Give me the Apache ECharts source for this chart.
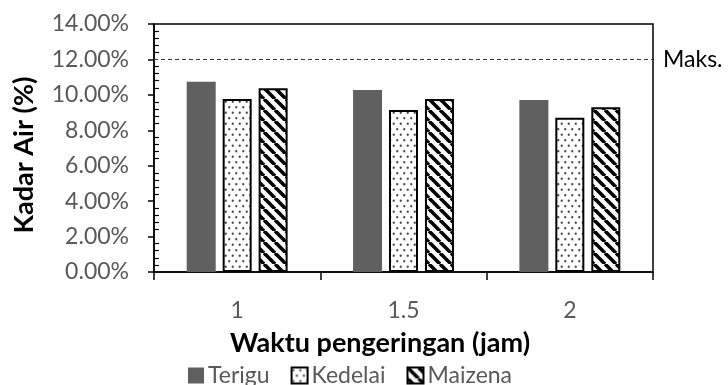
<!DOCTYPE html>
<html>
<head>
<meta charset="utf-8">
<script src="https://cdn.jsdelivr.net/npm/echarts@6/dist/echarts.min.js"></script>
<style>
  html, body { margin: 0; padding: 0; background: #fff; }
  #chart { width: 728px; height: 385px; }
</style>
</head>
<body>
<div id="chart"></div>
<script>
// Drying time categories (hours) and moisture content (%) per flour type
const categories = ['1', '1.5', '2'];
const terigu  = [10.74, 10.28, 9.71];
const kedelai = [9.77, 9.15, 8.71];
const maizena = [10.37, 9.77, 9.30];
const maxLimit = 12;            // upper limit line "Maks."
const yTicks = [0, 14, 2];      // min, max, interval

// Fill patterns: dotted tile for Kedelai, diagonal stripes for Maizena
function dotPattern() {
  const c = document.createElement('canvas');
  c.width = 7; c.height = 11;
  const g = c.getContext('2d');
  g.fillStyle = '#fff'; g.fillRect(0, 0, 7, 11);
  g.fillStyle = '#4a4a4a';
  [[1.75, 2.75], [5.25, 8.25]].forEach(function (p) {
    g.beginPath(); g.arc(p[0], p[1], 1.15, 0, Math.PI * 2); g.fill();
  });
  return c;
}
function stripePattern() {
  const s = 11;
  const c = document.createElement('canvas');
  c.width = s; c.height = s;
  const g = c.getContext('2d');
  g.fillStyle = '#fff'; g.fillRect(0, 0, s, s);
  g.strokeStyle = '#000'; g.lineWidth = 3.6;
  for (let k = -1; k <= 1; k++) {
    g.beginPath(); g.moveTo(k * s, 0); g.lineTo(k * s + s, s); g.stroke();
  }
  return c;
}

const font = 'Lato';
const grey = '#595959';
const chart = echarts.init(document.getElementById('chart'));

chart.setOption({
  animation: false,
  backgroundColor: '#fff',
  textStyle: { fontFamily: font },
  grid: {
    left: 154, top: 24, width: 499, height: 248,
    show: true, borderColor: '#000', borderWidth: 1.5, backgroundColor: 'transparent'
  },
  legend: {
    left: 183, top: 359,
    itemWidth: 16, itemHeight: 16, itemGap: 21,
    icon: 'rect',
    textStyle: { fontFamily: font, fontSize: 23, color: grey, padding: [0, 0, 0, -1] },
    data: ['Terigu', 'Kedelai', 'Maizena']
  },
  xAxis: {
    type: 'category',
    data: categories,
    axisLine: { lineStyle: { color: '#000', width: 1.5 } },
    axisTick: { show: true, length: 8, lineStyle: { color: '#000', width: 1.5 } },
    axisLabel: { fontFamily: font, fontSize: 23, color: grey, margin: 27 }
  },
  yAxis: [{
    type: 'value',
    min: yTicks[0], max: yTicks[1], interval: yTicks[2],
    splitLine: { show: false },
    axisLine: { show: true, lineStyle: { color: '#000', width: 1.5 } },
    axisTick: { show: true, length: 6, lineStyle: { color: '#000', width: 1.5 } },
    axisLabel: {
      fontFamily: font, fontSize: 23, color: grey, margin: 25,
      formatter: function (v) { return v.toFixed(2) + '%'; }
    }
  }, {
    // inner minor ticks sharing the same scale
    type: 'value', position: 'left',
    min: yTicks[0], max: yTicks[1], interval: yTicks[2],
    splitLine: { show: false },
    axisLine: { show: false },
    axisLabel: { show: false },
    axisTick: { show: false, inside: true },
    minorTick: { show: true, splitNumber: 5, length: 5, lineStyle: { color: '#000', width: 1.2 } }
  }],
  graphic: [
    {
      type: 'text', x: 380, y: 343,
      style: {
        text: 'Waktu pengeringan (jam)', fontFamily: font, fontWeight: 'bold',
        fontSize: 27, fill: '#000', align: 'center', verticalAlign: 'middle'
      }
    },
    {
      type: 'text', x: 24, y: 155, rotation: Math.PI / 2,
      style: {
        text: 'Kadar Air (%)', fontFamily: font, fontWeight: 'bold',
        fontSize: 27, fill: '#000', align: 'center', verticalAlign: 'middle'
      }
    }
  ],
  series: [
    {
      name: 'Terigu', type: 'bar', data: terigu,
      barWidth: 29, barGap: '24%',
      itemStyle: { color: '#606060' },
      markLine: {
        silent: true, symbol: 'none',
        data: [{ yAxis: maxLimit }],
        lineStyle: { type: [4, 3], color: '#333', width: 1 },
        label: {
          position: 'end', formatter: 'Maks.', distance: 10,
          fontFamily: font, fontSize: 23, color: '#000'
        }
      }
    },
    {
      name: 'Kedelai', type: 'bar', data: kedelai,
      barWidth: 29, barGap: '24%',
      itemStyle: {
        color: { image: dotPattern(), repeat: 'repeat' },
        borderColor: '#000', borderWidth: 2
      }
    },
    {
      name: 'Maizena', type: 'bar', data: maizena,
      barWidth: 29, barGap: '24%',
      itemStyle: {
        color: { image: stripePattern(), repeat: 'repeat' },
        borderColor: '#000', borderWidth: 2
      }
    }
  ]
});
</script>
</body>
</html>
